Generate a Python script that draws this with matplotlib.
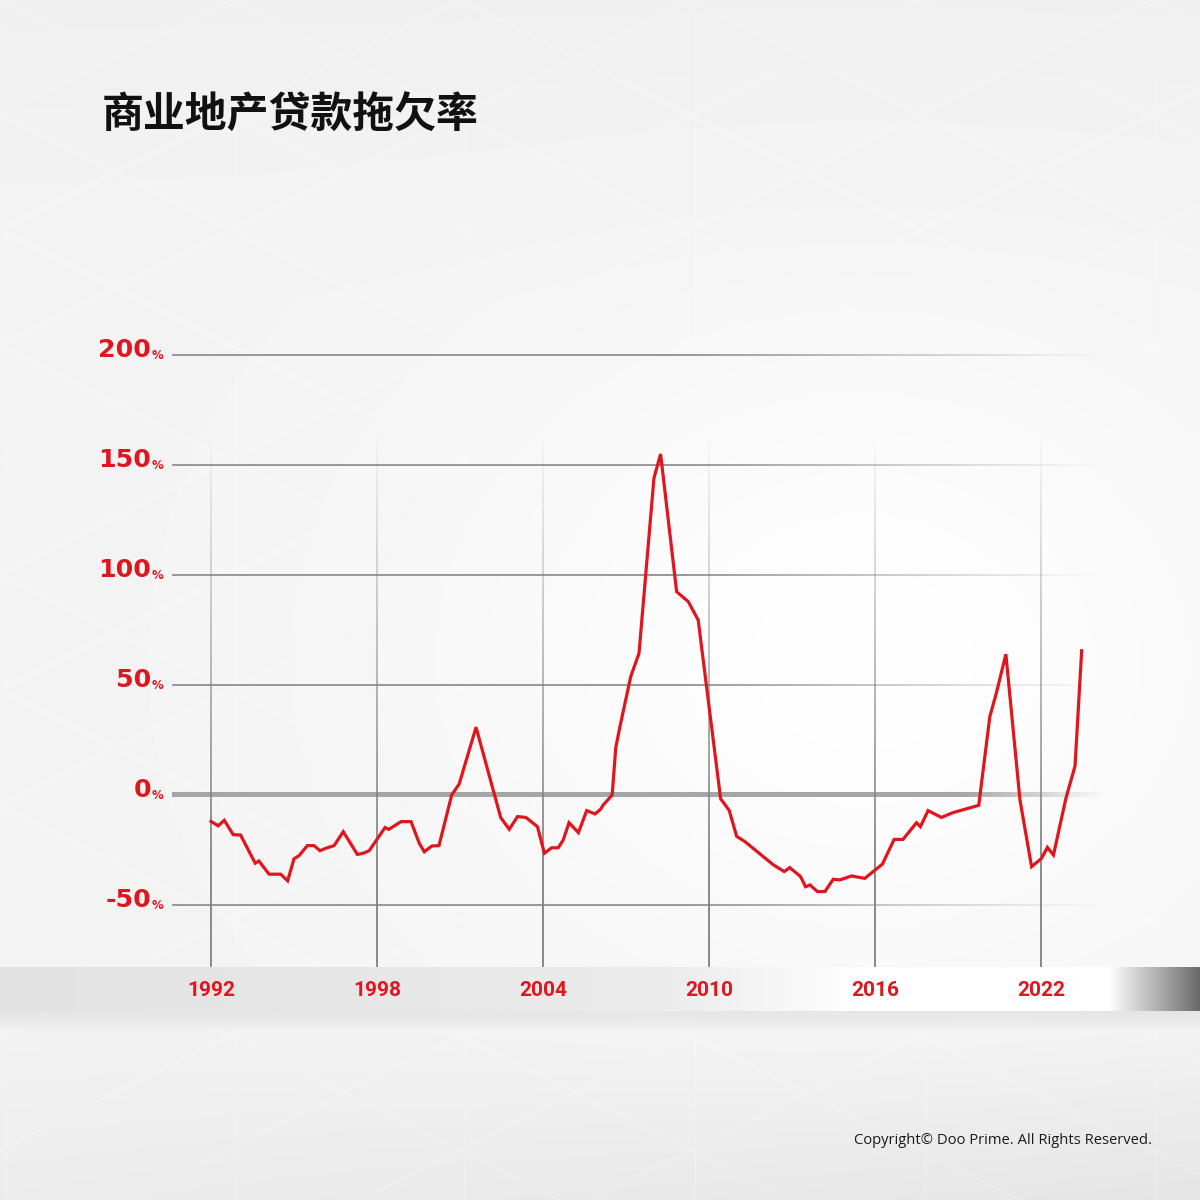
import numpy as np
import matplotlib

matplotlib.use("Agg")
import matplotlib.pyplot as plt
from matplotlib.colors import LinearSegmentedColormap, to_rgb

# ---- data ----
years = [
    1992.00, 1992.26, 1992.48, 1992.80, 1993.07, 1993.41, 1993.60, 1993.73, 1994.10, 1994.52,
    1994.77, 1995.00, 1995.19, 1995.48, 1995.72, 1995.94, 1996.20, 1996.45, 1996.78, 1997.29,
    1997.50, 1997.72, 1998.29, 1998.43, 1998.87, 1999.23, 1999.53, 1999.71, 1999.98, 2000.24,
    2000.70, 2000.97, 2001.58, 2002.47, 2002.78, 2003.08, 2003.38, 2003.80, 2004.05, 2004.31,
    2004.55, 2004.73, 2004.94, 2005.28, 2005.58, 2005.88, 2006.08, 2006.18, 2006.50, 2006.63,
    2006.78, 2007.17, 2007.47, 2008.01, 2008.25, 2008.83, 2009.25, 2009.61, 2010.42, 2010.73,
    2011.00, 2011.30, 2012.32, 2012.72, 2012.92, 2013.31, 2013.49, 2013.65, 2013.92, 2014.19,
    2014.49, 2014.73, 2015.15, 2015.63, 2016.27, 2016.69, 2017.01, 2017.50, 2017.64, 2017.92,
    2018.40, 2018.82, 2019.75, 2020.15, 2020.40, 2020.73, 2021.24, 2021.66, 2022.02, 2022.23,
    2022.45, 2022.90, 2023.23, 2023.47,
]
values = [
    -12, -14, -11.5, -18, -18.2, -26.5, -31, -30, -36, -36,
    -39, -29, -27.5, -23, -23, -25.3, -24, -23, -16.7, -27,
    -26.5, -25.3, -14.8, -15.6, -12.1, -12.1, -22, -25.8, -23.2, -23,
    0, 5, 30.8, -10.2, -15.6, -9.8, -10.2, -14.4, -26.5, -24,
    -24, -20.5, -12.6, -17.1, -7.1, -8.6, -6.5, -4.5, 0, 21.5,
    31, 53.8, 64.4, 144, 155, 92.4, 87.9, 79.5, -1.7, -7,
    -18.8, -21.2, -31.7, -34.8, -33, -37.1, -41.7, -40.9, -43.9, -43.9,
    -38.3, -38.6, -36.8, -37.9, -31.4, -20.2, -20.2, -12.6, -14.4, -7.1,
    -10.2, -8, -4.7, 35.6, 47, 64, -2.3, -32.6, -28.8, -23.8,
    -27.3, -1.5, 13.2, 65.6,
]
y_ticks = [200, 150, 100, 50, 0, -50]
x_ticks = [1992, 1998, 2004, 2010, 2016, 2022]
title = "商业地产贷款拖欠率"
footer = "Copyright© Doo Prime. All Rights Reserved."

RED = "#e0161e"

# pixel layout of the plot area (figure is 1200 x 1200 px)
PX_PER_YEAR = 166 / 6
PX_PER_PCT = 2.2
X0_PX, Y0_PX = 211, 795  # where 1992 and 0% sit
xlim = (1992 - X0_PX / PX_PER_YEAR, 1992 + (1200 - X0_PX) / PX_PER_YEAR)
ylim = ((Y0_PX - 1200) / PX_PER_PCT, Y0_PX / PX_PER_PCT)

fig = plt.figure(figsize=(12, 12), dpi=100)

# ---- background in pixel coordinates ----
bg = fig.add_axes([0, 0, 1, 1])
bg.set_xlim(0, 1200)
bg.set_ylim(1200, 0)
bg.axis("off")

gx, gy = np.meshgrid(np.linspace(0, 1, 300), np.linspace(0, 1, 300))
shade = 0.955 + 0.04 * np.exp(-((gx - 0.72) ** 2 / 0.12 + (gy - 0.55) ** 2 / 0.08))
shade -= 0.06 * np.clip((gy - 0.82) / 0.18, 0, 1) * (0.5 + 0.5 * gx)
shade -= 0.015 * np.clip((0.25 - gy) / 0.25, 0, 1)
bg.imshow(shade, cmap="gray", vmin=0, vmax=1, extent=(0, 1200, 1200, 0), aspect="auto",
          interpolation="bilinear", zorder=0)

# faint triangle pattern
step = 230
for k in range(-8, 14):
    c = k * step
    bg.plot([c, c + 2400], [0, 2400 * 0.5], color="white", lw=1.2, alpha=0.3, zorder=1)
    bg.plot([c, c - 2400], [0, 2400 * 0.5], color="white", lw=1.2, alpha=0.3, zorder=1)
for k in range(0, 7):
    bg.plot([k * step + 5, k * step + 5], [0, 1200], color="white", lw=1.0, alpha=0.25, zorder=1)

# x-axis band with gradient
band_cmap = LinearSegmentedColormap.from_list(
    "band",
    [(0.0, "#e2e2e2"), (0.55, "#ebebeb"), (0.72, "#ffffff"), (0.925, "#ffffff"),
     (0.965, "#b0b0b0"), (1.0, "#6a6a6a")],
    N=2048,
)
bg.imshow(np.linspace(0, 1, 1200)[None, :], cmap=band_cmap, extent=(0, 1200, 1011, 967),
          aspect="auto", interpolation="bilinear", zorder=2)
shadow = np.linspace(0.86, 0.93, 40)[:, None] * np.ones((1, 10))
bg.imshow(shadow, cmap="gray", vmin=0, vmax=1, extent=(0, 1200, 1030, 1011), aspect="auto",
          interpolation="bilinear", alpha=0.6, zorder=2)

# ---- chart in data coordinates ----
ax = fig.add_axes([0, 0, 1, 1])
ax.patch.set_alpha(0)
ax.axis("off")

x_left = 1992 - (X0_PX - 172) / PX_PER_YEAR
x_right = 1992 + (1105 - X0_PX) / PX_PER_YEAR
band_top = (Y0_PX - 967) / PX_PER_PCT


def faded_strip(alpha, color, extent, horizontal=True):
    rgba = np.zeros((1, len(alpha), 4)) if horizontal else np.zeros((len(alpha), 1, 4))
    rgba[..., :3] = to_rgb(color)
    rgba[..., 3] = alpha if horizontal else alpha[:, None]
    ax.imshow(rgba, extent=extent, origin="lower", aspect="auto",
              interpolation="bilinear", zorder=3)


t = np.linspace(0, 1, 400)
for v in y_ticks:
    if v == 0:
        half = 2.2 / PX_PER_PCT
        faded_strip(np.clip((1 - t) / 0.15, 0, 1) * 0.95, "#a2a2a2",
                    (x_left, x_right, v - half, v + half))
    else:
        half = 0.6 / PX_PER_PCT
        faded_strip(np.clip((1 - t) / 0.45, 0, 1) * 0.9, "#8f8f8f",
                    (x_left, x_right, v - half, v + half))

for yr in x_ticks:
    half = 0.6 / PX_PER_YEAR
    faded_strip(np.clip(1.15 - t ** 1.2 * 1.15, 0, 1) * 0.9, "#808080",
                (yr - half, yr + half, band_top, 165), horizontal=False)

ax.plot(years, values, color=RED, lw=2.3, solid_joinstyle="miter", zorder=5)

ax.set_xlim(*xlim)
ax.set_ylim(*ylim)

# tick labels
for v in y_ticks:
    ax.text(1992 - (211 - 151) / PX_PER_YEAR, v + 2.2, f"{v}", ha="right", va="center",
            fontsize=18.2, fontweight="bold", family="DejaVu Sans", color=RED, zorder=6)
    ax.text(1992 - (211 - 152) / PX_PER_YEAR, v - 1.8, "%", ha="left", va="baseline",
            fontsize=8.5, fontweight="bold", family="DejaVu Sans", color=RED, zorder=6)

for yr in x_ticks:
    ax.text(yr, (Y0_PX - 991) / PX_PER_PCT, str(yr), ha="center", va="center",
            fontsize=15, fontweight="bold", family="Roboto", color=RED, zorder=6)

fig.text(102 / 1200, 1 - 116 / 1200, title, ha="left", va="center", fontsize=30.2,
         fontweight="bold", family=["Noto Sans CJK SC", "DejaVu Sans"], color="#111111")
fig.text(1152 / 1200, 1 - 1141 / 1200, footer, ha="right", va="center", fontsize=10.6,
         family="Open Sans", color="#1a1a1a")

fig.savefig("out.png", dpi=100)
